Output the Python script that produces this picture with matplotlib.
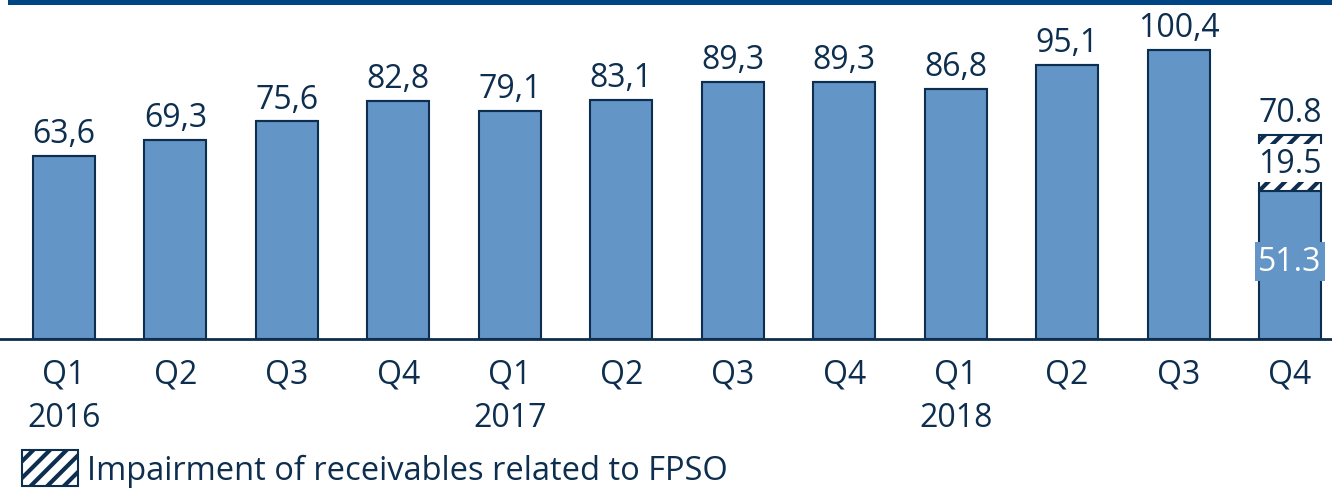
import matplotlib
matplotlib.use("Agg")
import matplotlib.pyplot as plt
from matplotlib.patches import Rectangle, Patch

plt.rcParams['font.family'] = ['Open Sans', 'DejaVu Sans']
plt.rcParams['hatch.linewidth'] = 3.0

categories = ["Q1\n2016", "Q2", "Q3", "Q4", "Q1\n2017", "Q2", "Q3", "Q4", "Q1\n2018", "Q2", "Q3", "Q4"]
values = [63.6, 69.3, 75.6, 82.8, 79.1, 83.1, 89.3, 89.3, 86.8, 95.1, 100.4, 51.3]
value_labels = ["63,6", "69,3", "75,6", "82,8", "79,1", "83,1", "89,3", "89,3", "86,8", "95,1", "100,4", "51.3"]
impairment = [0, 0, 0, 0, 0, 0, 0, 0, 0, 0, 0, 19.5]
impairment_label = "19.5"
total_label = "70.8"
legend_label = "Impairment of receivables related to FPSO"

BAR = "#6395C7"
EDGE = "#0D2E4E"
TXT = "#0D2E4E"
BAND = "#004583"
FS = 23

fig = plt.figure(figsize=(13.32, 4.89), dpi=100)
ax = fig.add_axes([0, 149/489, 1, (340-6)/489])

x = list(range(len(values)))
bars = ax.bar(x, values, width=0.556, color=BAR, edgecolor=EDGE, linewidth=1.5, zorder=2)
hb = ax.bar(x, impairment, bottom=values, width=0.556, color="white", edgecolor=EDGE,
            linewidth=1.5, hatch="//", zorder=2)

spacing = 111.45
ax.set_xlim(-64/spacing, 11 + (1332-1290)/spacing)
ax.set_ylim(0, (340-6)/2.878)

for i, (v, lab) in enumerate(zip(values, value_labels)):
    if impairment[i] > 0:
        ax.text(i, v/2 + 1.2, lab, ha="center", va="center", fontsize=FS, color="white",
                bbox=dict(boxstyle="square,pad=0.1", fc=BAR, ec="none"), zorder=4)
        ax.text(i, v + impairment[i]/2, impairment_label, ha="center", va="center", fontsize=FS,
                color=TXT, bbox=dict(boxstyle="square,pad=0.08", fc="white", ec="none"), zorder=4)
        ax.annotate(total_label, (i, v + impairment[i]), xytext=(0, 10), textcoords="offset points",
                    ha="center", va="baseline", fontsize=FS, color=TXT)
    else:
        ax.annotate(lab, (i, v), xytext=(0, 10), textcoords="offset points",
                    ha="center", va="baseline", fontsize=FS, color=TXT)

ax.set_xticks(x)
ax.set_xticklabels(categories, fontsize=FS, color=TXT, linespacing=1.42)
ax.tick_params(axis="x", length=0, pad=13)
ax.set_yticks([])
for s in ["top", "left", "right"]:
    ax.spines[s].set_visible(False)
ax.spines["bottom"].set_color(EDGE)
ax.spines["bottom"].set_linewidth(2)
ax.patch.set_alpha(0)

fig.patches.append(Rectangle((8/1332, 1 - 6/489), 1, 6/489, transform=fig.transFigure,
                             facecolor=BAND, edgecolor="none"))

handle = Patch(facecolor="white", edgecolor=EDGE, hatch="//", linewidth=1.5)
fig.legend([handle], [legend_label], loc="lower left", bbox_to_anchor=(9/1332, -12/489),
           frameon=False, fontsize=23.5, labelcolor=TXT, handlelength=1.7, handleheight=1.35,
           handletextpad=0.3, borderaxespad=0)

fig.savefig("out.png", dpi=100)
